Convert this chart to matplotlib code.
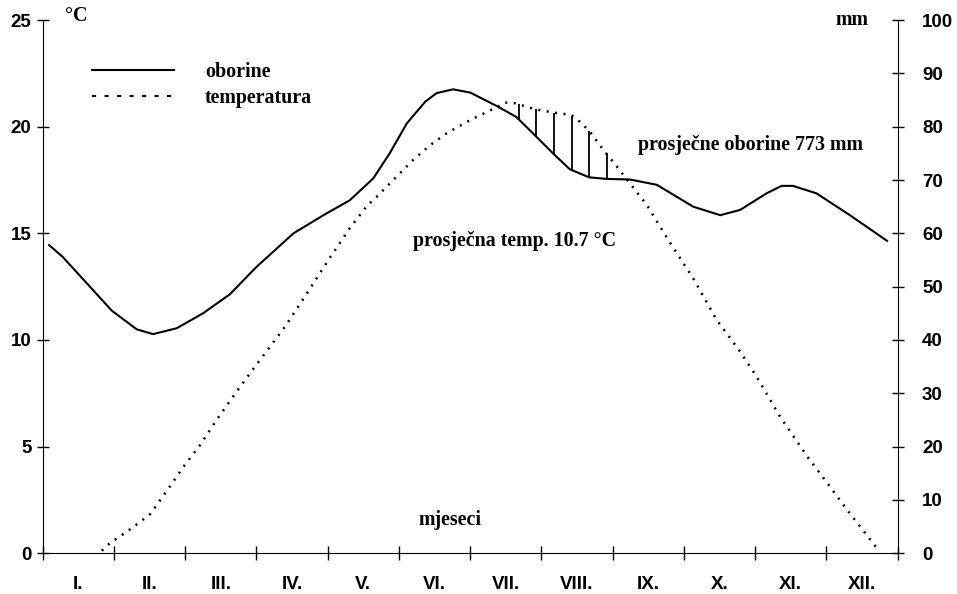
import numpy as np
import matplotlib
matplotlib.use("Agg")
import matplotlib.pyplot as plt
from matplotlib.lines import Line2D

# month labels, x axis in months (0..12)
months = ["I.", "II.", "III.", "IV.", "V.", "VI.", "VII.", "VIII.", "IX.", "X.", "XI.", "XII."]

# precipitation curve (mm)
precip_x = [0.09, 0.28, 0.97, 1.32, 1.55, 1.88, 2.25, 2.63, 3.0, 3.52, 3.94, 4.31, 4.64,
            4.87, 5.11, 5.37, 5.53, 5.76, 6.0, 6.37, 6.65, 6.93, 7.17, 7.40, 7.67, 7.92,
            8.24, 8.62, 9.13, 9.51, 9.79, 10.16, 10.37, 10.53, 10.86, 11.33, 11.85]
precip_mm = [57.8, 55.6, 45.5, 42.0, 41.1, 42.2, 45.0, 48.6, 53.7, 60.0, 63.4, 66.2, 70.3,
             75.0, 80.6, 84.7, 86.3, 87.0, 86.4, 83.9, 81.8, 78.1, 74.9, 72.0, 70.5, 70.2,
             70.1, 69.1, 65.0, 63.4, 64.4, 67.5, 68.9, 68.9, 67.5, 63.4, 58.6]

# temperature curve (°C)
temp_x = [0.83, 0.94, 1.18, 1.39, 1.51, 1.65, 1.81, 1.97, 2.21, 2.44, 2.67, 2.91, 3.40,
          3.71, 4.01, 4.31, 4.55, 4.69, 4.92, 5.20, 5.44, 5.67, 6.0, 6.39, 6.49, 6.63,
          6.91, 7.17, 7.42, 7.54, 7.68, 7.87, 8.06, 8.24, 8.48, 8.78, 9.13, 9.46, 9.79,
          10.02, 10.35, 10.75, 10.98, 11.31, 11.70]
temp_c = [0.12, 0.47, 1.01, 1.53, 1.84, 2.5, 3.25, 4.03, 5.08, 6.25, 7.34, 8.44, 10.62,
          12.19, 13.75, 15.24, 16.28, 16.72, 17.5, 18.44, 19.14, 19.69, 20.31, 20.94, 21.13, 21.1,
          20.82, 20.66, 20.55, 20.23, 19.77, 18.91, 18.13, 17.35, 16.33, 14.69, 12.89, 10.94, 9.45,
          8.28, 6.4, 4.45, 3.44, 1.95, 0.28]

# dry period hatching positions
hatch_x = [6.68, 6.92, 7.18, 7.43, 7.67, 7.92]

tick_font = {"family": "Liberation Sans", "weight": "bold", "size": 13.5}
txt_font = {"family": "Liberation Serif", "weight": "bold", "size": 14.4}

fig = plt.figure(figsize=(9.57, 5.94), dpi=100)
ax = fig.add_axes([0.0446, 0.0685, 0.8934, 0.8978])
ax2 = ax.twinx()

dotted = (0, (0.8, 2.6))
ax.plot(temp_x, temp_c, color="black", lw=1.8, ls=dotted)
ax2.plot(precip_x, precip_mm, color="black", lw=1.5)

# vertical hatch where temperature is above precipitation
hx = np.array(hatch_x)
top = np.interp(hx, temp_x, temp_c)
bot = np.interp(hx, precip_x, precip_mm) / 4.0
ax.vlines(hx, bot, top, color="black", lw=1.3)

ax.set_xlim(0, 12)
ax.set_ylim(0, 25)
ax2.set_ylim(0, 100)

for a in (ax, ax2):
    a.spines["top"].set_visible(False)
ax.spines["right"].set_visible(False)
ax2.spines["left"].set_visible(False)
ax2.spines["bottom"].set_visible(False)

ax.set_xticks(np.arange(0, 13))
ax.set_xticklabels([])
ax.set_xticks(np.arange(0.5, 12), minor=True)
ax.set_xticklabels(months, minor=True, fontdict=tick_font)
ax.tick_params(axis="x", which="major", direction="inout", length=9.5, width=1)
ax.tick_params(axis="x", which="minor", length=0, pad=16.5)

ax.set_yticks(np.arange(0, 26, 5))
ax.set_yticklabels([str(v) for v in range(0, 26, 5)], fontdict=tick_font)
ax.tick_params(axis="y", direction="inout", length=9, width=1)

ax2.set_yticks(np.arange(0, 101, 10))
ax2.set_yticklabels([str(v) for v in range(0, 101, 10)], fontdict=tick_font)
ax2.tick_params(axis="y", direction="inout", length=9, width=1, pad=13)

# texts
ax.text(0.47, 25.2, "°C", ha="center", va="center", clip_on=False, fontdict=txt_font)
ax.text(11.36, 25.0, "mm", ha="center", va="center", clip_on=False, fontdict=txt_font)
ax.text(9.93, 19.14, "prosječne oborine 773 mm", ha="center", va="center", fontdict=txt_font)
ax.text(6.62, 14.64, "prosječna temp. 10.7 °C", ha="center", va="center", fontdict=txt_font)
ax.text(5.72, 1.56, "mjeseci", ha="center", va="center", fontdict=txt_font)

handles = [Line2D([], [], color="black", lw=1.5),
           Line2D([], [], color="black", lw=1.5, ls=(0, (2, 4)))]
ax.legend(handles, ["oborine", "temperatura"], loc="upper left",
          bbox_to_anchor=(0.0577, 0.922), frameon=False, borderpad=0,
          borderaxespad=0, handlelength=4.1, handletextpad=1.55, labelspacing=0.33,
          prop={"family": "Liberation Serif", "weight": "bold", "size": 14.4})

fig.savefig("out.png", dpi=100)
